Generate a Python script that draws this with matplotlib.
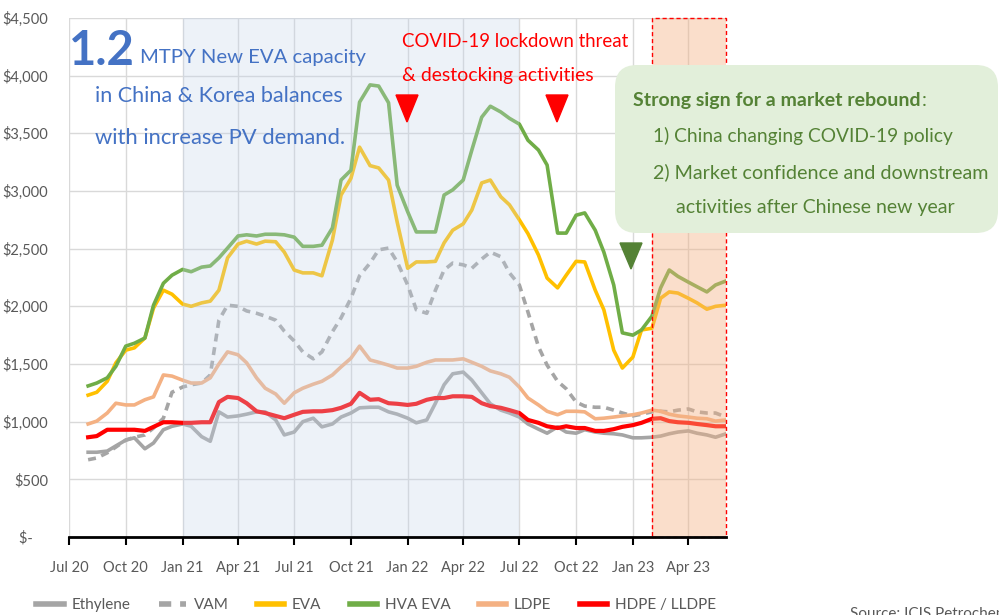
import matplotlib
matplotlib.use('Agg')
import matplotlib.pyplot as plt
import matplotlib.dates as mdates
from matplotlib.patches import FancyBboxPatch, Rectangle, Polygon
from matplotlib.transforms import IdentityTransform
import pandas as pd

plt.rcParams['font.family'] = ['Lato', 'DejaVu Sans']

# ---------------- data ----------------
dates = pd.date_range('2020-08-01', '2023-06-01', freq='SMS')

ethylene = [735, 735, 745, 790, 840, 860, 765, 815, 930, 960,
            980, 960, 870, 830, 1085, 1040, 1050, 1065, 1085, 1085,
            1015, 885, 910, 1000, 1030, 955, 980, 1040, 1075, 1120,
            1125, 1125, 1085, 1065, 1030, 990, 1015, 1160, 1320, 1415,
            1430, 1360, 1250, 1155, 1100, 1075, 1040, 980, 935, 900,
            955, 910, 900, 930, 910, 900, 895, 885, 860, 860,
            865, 875, 895, 910, 920, 900, 885, 865, 895]

vam = [670, 685, 730, 780, 840, 865, 885, 945, 1030, 1255,
       1300, 1320, 1335, 1405, 1880, 2010, 2000, 1960, 1940, 1915,
       1880, 1785, 1700, 1605, 1545, 1605, 1780, 1900, 2070, 2265,
       2375, 2490, 2505, 2385, 2185, 1970, 1940, 2140, 2315, 2375,
       2360, 2330, 2410, 2470, 2430, 2290, 2185, 1950, 1650, 1490,
       1350, 1285, 1170, 1135, 1125, 1125, 1100, 1075, 1050, 1065,
       1085, 1090, 1085, 1100, 1110, 1085, 1075, 1075, 1040]

eva = [1230, 1255, 1350, 1510, 1620, 1640, 1725, 1985, 2140, 2105,
       2020, 2000, 2030, 2045, 2140, 2420, 2540, 2565, 2540, 2565,
       2560, 2470, 2315, 2290, 2290, 2265, 2575, 2965, 3110, 3380,
       3220, 3200, 3095, 2730, 2330, 2385, 2385, 2390, 2550, 2660,
       2715, 2835, 3070, 3095, 2950, 2880, 2750, 2630, 2445, 2245,
       2160, 2270, 2390, 2385, 2140, 1970, 1620, 1465, 1560, 1795,
       1810, 2070, 2125, 2115, 2070, 2030, 1975, 2000, 2010]

hva_eva = [1310, 1335, 1380, 1480, 1655, 1680, 1725, 2010, 2200, 2270,
           2320, 2300, 2340, 2350, 2420, 2505, 2610, 2620, 2610, 2625,
           2625, 2620, 2600, 2520, 2520, 2530, 2680, 3095, 3180, 3770,
           3920, 3910, 3765, 3050, 2820, 2645, 2645, 2645, 2965, 3010,
           3095, 3355, 3640, 3735, 3685, 3630, 3580, 3440, 3355, 3225,
           2635, 2635, 2790, 2810, 2660, 2470, 2185, 1770, 1750, 1795,
           1915, 2160, 2315, 2260, 2210, 2170, 2125, 2185, 2220]

ldpe = [980, 1005, 1075, 1160, 1145, 1145, 1190, 1215, 1405, 1395,
        1360, 1335, 1335, 1380, 1500, 1605, 1580, 1510, 1380, 1290,
        1240, 1160, 1250, 1290, 1325, 1350, 1405, 1475, 1550, 1655,
        1535, 1515, 1490, 1465, 1465, 1480, 1515, 1535, 1535, 1535,
        1545, 1515, 1480, 1440, 1415, 1385, 1300, 1205, 1145, 1090,
        1060, 1090, 1090, 1085, 1025, 1030, 1040, 1050, 1060, 1075,
        1100, 1090, 1065, 1050, 1040, 1030, 1025, 1005, 1015]

hdpe = [865, 875, 930, 930, 930, 930, 920, 955, 995, 995,
        990, 990, 995, 995, 1170, 1215, 1205, 1160, 1090, 1075,
        1050, 1030, 1060, 1085, 1090, 1090, 1100, 1120, 1155, 1250,
        1190, 1195, 1160, 1155, 1145, 1155, 1190, 1205, 1205, 1220,
        1220, 1215, 1160, 1135, 1120, 1100, 1075, 1015, 990, 960,
        945, 960, 945, 945, 920, 920, 935, 955, 970, 990,
        1025, 1030, 1005, 995, 990, 980, 970, 960, 960]

tick_dates = ['2020-07-01', '2020-10-01', '2021-01-01', '2021-04-01', '2021-07-01',
              '2021-10-01', '2022-01-01', '2022-04-01', '2022-07-01', '2022-10-01',
              '2023-01-01', '2023-04-01']
tick_labels = ['Jul 20', 'Oct 20', 'Jan 21', 'Apr 21', 'Jul 21', 'Oct 21',
               'Jan 22', 'Apr 22', 'Jul 22', 'Oct 22', 'Jan 23', 'Apr 23']
y_ticks = [0, 500, 1000, 1500, 2000, 2500, 3000, 3500, 4000, 4500]
y_labels = ['$-    ', '$500', '$1,000', '$1,500', '$2,000', '$2,500',
            '$3,000', '$3,500', '$4,000', '$4,500']

# ---------------- figure ----------------
W, H = 999, 615
fig = plt.figure(figsize=(W / 100, H / 100), dpi=100)
ax = fig.add_axes([69 / W, 1 - 537 / H, (726 - 69) / W, (537 - 18) / H])

series = [
    ('Ethylene', ethylene, '#A5A5A5', '-', 2.6),
    ('VAM', vam, '#A5A5A5', (0, (2.2, 1.6)), 2.6),
    ('EVA', eva, '#FFC000', '-', 2.6),
    ('HVA EVA', hva_eva, '#70AD47', '-', 2.6),
    ('LDPE', ldpe, '#F4B183', '-', 2.6),
    ('HDPE / LLDPE', hdpe, '#FF0000', '-', 3.0),
]
for name, vals, col, ls, lw in series:
    ax.plot(dates, vals, color=col, ls=ls, lw=lw, label=name, zorder=2,
            dash_capstyle='butt')

xmin = pd.Timestamp('2020-07-01')
xmax = pd.Timestamp('2023-06-01')
ax.set_xlim(xmin, xmax)
ax.set_ylim(0, 4500)

# shaded periods (drawn above lines, like the original overlay)
ax.axvspan(pd.Timestamp('2021-01-01'), pd.Timestamp('2022-07-01'),
           color='#C5D5EA', alpha=0.30, lw=0, zorder=3)
o0 = mdates.date2num(pd.Timestamp('2023-02-01'))
o1 = mdates.date2num(xmax)
ax.axvspan(o0, o1, color='#F4B183', alpha=0.42, lw=0, zorder=3)
ax.add_patch(Rectangle((o0, 0), o1 - o0, 4500, fill=False, ec='#FF0000',
                       ls=(0, (3, 2)), lw=1.0, zorder=4, clip_on=False))

ax.set_xticks([mdates.date2num(pd.Timestamp(d)) for d in tick_dates])
ax.set_xticklabels(tick_labels)
ax.set_yticks(y_ticks)
ax.set_yticklabels(y_labels)

ax.grid(True, color='#D9D9D9', lw=1.0, zorder=0)
ax.set_axisbelow(True)
for s in ['left', 'right', 'top']:
    ax.spines[s].set_visible(False)
ax.spines['bottom'].set_color('black')
ax.spines['bottom'].set_linewidth(2.0)
ax.spines['bottom'].set_zorder(5)
ax.tick_params(axis='x', direction='out', length=6, width=1.5, color='black',
               pad=11, labelsize=10.5, labelcolor='#595959')
ax.tick_params(axis='y', length=0, pad=15, labelsize=10.5, labelcolor='#595959')

# legend
leg = fig.legend(loc='center', bbox_to_anchor=(376 / W, 1 - 605 / H), ncol=6,
                 frameon=False, fontsize=11, handlelength=1.8, handletextpad=0.5,
                 columnspacing=1.85)
for t in leg.get_texts():
    t.set_color('#595959')
for l in leg.get_lines():
    l.set_linewidth(4)

renderer = fig.canvas.get_renderer()


def fx(x):
    return x / W


def fy(y):
    return 1 - y / H


def fit_text(x, y, s, width_px, **kw):
    t = fig.text(fx(x), fy(y), s, fontsize=10, va='baseline', ha='left', **kw)
    w = t.get_window_extent(renderer).width
    t.set_fontsize(10 * width_px / w)
    return t


blue = '#4472C4'
fit_text(69, 65, '1.2', 66, fontweight='bold', color=blue)
fit_text(140, 63, 'MTPY New EVA capacity', 225, color=blue)
fit_text(95, 102, 'in China & Korea balances', 248, color=blue)
fit_text(95, 144, 'with increase PV demand.', 250, color=blue)

fit_text(402, 47, 'COVID-19 lockdown threat', 227, color='#FF0000')
fit_text(402, 81, '& destocking activities', 192, color='#FF0000')

# triangles
for (cx, col) in [(407, '#FF0000'), (557, '#FF0000')]:
    fig.add_artist(Polygon([(cx - 11, H - 95), (cx + 11, H - 95), (cx, H - 122)],
                           closed=True, color=col, transform=IdentityTransform()))
fig.add_artist(Polygon([(620, H - 243), (642, H - 243), (631, H - 269)],
                       closed=True, color='#548235', transform=IdentityTransform()))

# green box
box = FancyBboxPatch((615, H - 233), 383, 168,
                     boxstyle='round,pad=0,rounding_size=22',
                     fc='#E2EFDA', ec='none', transform=IdentityTransform())
fig.add_artist(box)
dg = '#548235'
t1 = fit_text(633, 106, 'Strong sign for a market rebound', 287,
              fontweight='bold', color=dg)
bb = t1.get_window_extent(renderer)
fig.text(bb.x1 / W + 0.001, fy(106), ':', fontsize=t1.get_fontsize(), color=dg,
         va='baseline', ha='left')
fit_text(653, 142, '1) China changing COVID-19 policy', 298, color=dg)
fit_text(653, 178, '2) Market confidence and downstream', 336, color=dg)
fit_text(676, 213, 'activities after Chinese new year', 279, color=dg)

fig.text(fx(850), fy(607), 'Source: ICIS Petrochemical', fontsize=11,
         color='#595959', va='top', ha='left')

fig.savefig('out.png', dpi=100)
